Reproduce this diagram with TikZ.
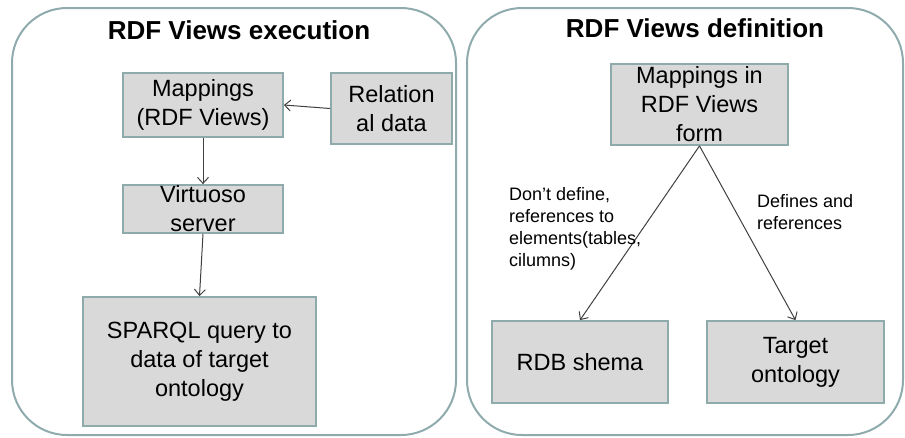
\documentclass[tikz,border=0pt]{standalone}
\usepackage{fontspec}
\setmainfont{Liberation Sans}
\usetikzlibrary{arrows.meta}
\definecolor{panelc}{HTML}{8FABAD}
\definecolor{boxline}{HTML}{8FAAAA}
\definecolor{boxfill}{HTML}{D9D9D9}
\definecolor{arrc}{HTML}{404040}
\tikzset{
  panel/.style={draw=panelc, line width=2pt, rounded corners=55pt},
  box/.style={draw=boxline, fill=boxfill, line width=1.8pt, inner sep=0pt},
  boxtxt/.style={font=\fontsize{23.5pt}{29pt}\selectfont, align=center, inner sep=0pt},
  ttl/.style={font=\fontsize{26pt}{29pt}\selectfont\bfseries, inner sep=0pt, anchor=base},
  lbl/.style={font=\fontsize{18pt}{22pt}\selectfont, align=left, inner sep=0pt, anchor=north west},
  conn/.style={draw=arrc, line width=1pt, -{Straight Barb[length=6pt,width=11pt]}}
}
\begin{document}
\begin{tikzpicture}[x=1pt,y=-1pt]
\useasboundingbox (0,0) rectangle (905,437);
% panels
\draw[panel] (12,8) rectangle (456,435);
\draw[panel] (467,8) rectangle (903,435);
\node[ttl] (t1) at (239,39) {RDF Views execution};
\node[ttl] (t2) at (695,37) {RDF Views definition};
% left boxes
\node[box, minimum width=160pt, minimum height=64pt,
      label={[boxtxt]center:Mappings\\(RDF Views)}] (map) at (203,105) {};
\node[box, minimum width=121pt, minimum height=71pt,
      label={[boxtxt]center:Relation\\al data}] (rel) at (391.5,108.5) {};
\node[box, minimum width=160pt, minimum height=48pt,
      label={[boxtxt]center:Virtuoso\\server}] (virt) at (203,209) {};
\node[box, minimum width=233pt, minimum height=129pt,
      label={[boxtxt]center:SPARQL query to\\data of target\\ontology}] (sparql) at (199.5,361.5) {};
% right boxes
\node[box, minimum width=177pt, minimum height=81pt,
      label={[boxtxt]center:Mappings in\\RDF Views\\form}] (mapin) at (699.5,104.5) {};
\node[box, minimum width=176pt, minimum height=82pt,
      label={[boxtxt]center:RDB shema}] (rdb) at (580,362) {};
\node[box, minimum width=177pt, minimum height=82pt,
      label={[boxtxt]center:Target\\ontology}] (tgt) at (795.5,362) {};
% connectors
\draw[conn] (rel.west) -- (map.east);
\draw[conn] (map.south) -- (virt.north);
\draw[conn] (virt.south) -- (sparql.north);
\draw[conn] (mapin.south) -- (rdb.north);
\draw[conn] (mapin.south) -- (tgt.north);
% labels
\node[lbl] (l1) at (509,187) {Don’t define,\\references to\\elements(tables,\\cilumns)};
\node[lbl] (l2) at (757,194) {Defines and\\references};
\end{tikzpicture}
\end{document}
